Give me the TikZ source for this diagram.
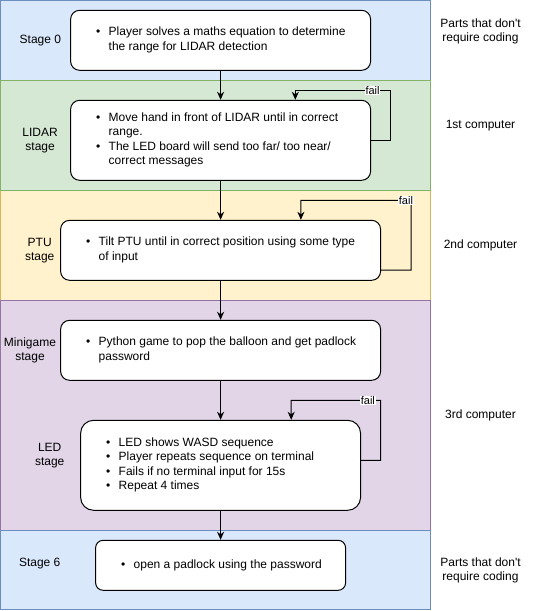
\documentclass[tikz,border=0pt]{standalone}
\usepackage{fontspec}
\setmainfont{Liberation Sans}
\usetikzlibrary{arrows.meta,calc}
\definecolor{bluefill}{HTML}{DAE8FC}\definecolor{bluedraw}{HTML}{6C8EBF}
\definecolor{greenfill}{HTML}{D5E8D4}\definecolor{greendraw}{HTML}{82B366}
\definecolor{yellowfill}{HTML}{FFF2CC}\definecolor{yellowdraw}{HTML}{D6B656}
\definecolor{purplefill}{HTML}{E1D5E7}\definecolor{purpledraw}{HTML}{9673A6}
\newcommand{\blist}[2]{\makebox[#1][l]{\hspace{25.5pt}\begin{tabular}{@{}l@{\hspace{8.4pt}}l@{}}#2\end{tabular}}}
\begin{document}
\begin{tikzpicture}[x=1pt,y=-1pt,
  band/.style={line width=1pt},
  stagebox/.style={draw, line width=1pt, fill=white, inner sep=0pt,
    font=\fontsize{12}{14.4}\selectfont},
  lbl/.style={align=center, inner sep=0pt, font=\fontsize{12}{14.4}\selectfont},
  arr/.style={line width=1pt, -{Stealth[length=8pt,width=7pt,inset=2.5pt]}},
  fl/.style={fill=white, inner sep=0.6pt, font=\fontsize{11}{13}\selectfont}]
\useasboundingbox (0,0) rectangle (541,611);
% bands
\path[band, fill=bluefill, draw=bluedraw] (0.8,0.5) rectangle (430.5,80.3);
\path[band, fill=yellowfill, draw=yellowdraw] (0.8,190.3) rectangle (430.5,300.3);
\path[band, fill=greenfill, draw=greendraw] (0.8,80.3) rectangle (430.5,190.3);
\path[band, fill=purplefill, draw=purpledraw] (0.8,300.3) rectangle (430.5,530.3);
\path[band, fill=bluefill, draw=bluedraw] (0.8,530.3) rectangle (430.5,609.8);
% boxes
\node[stagebox, rounded corners=9pt, minimum width=300pt, minimum height=60pt] (s0) at (220.6,40.3)
  {\blist{300pt}{\textbullet & Player solves a maths equation to determine\\ & the range for LIDAR detection}};
\node[stagebox, rounded corners=9pt, minimum width=300pt, minimum height=80pt] (lidar) at (220.6,140.3)
  {\blist{300pt}{\textbullet & Move hand in front of LIDAR until in correct\\ & range.\\ \textbullet & The LED board will send too far/ too near/\\ & correct messages}};
\node[stagebox, rounded corners=9pt, minimum width=320pt, minimum height=60pt] (ptu) at (220.6,250.3)
  {\blist{320pt}{\textbullet & Tilt PTU until in correct position using some type\\ & of input}};
\node[stagebox, rounded corners=9pt, minimum width=320pt, minimum height=60pt] (mini) at (220.6,350.3)
  {\blist{320pt}{\textbullet & Python game to pop the balloon and get padlock\\ & password}};
\node[stagebox, rounded corners=13pt, minimum width=280pt, minimum height=90pt] (led) at (220.6,465.3)
  {\blist{280pt}{\textbullet & LED shows WASD sequence\\ \textbullet & Player repeats sequence on terminal\\ \textbullet & Fails if no terminal input for 15s\\ \textbullet & Repeat 4 times}};
\node[stagebox, rounded corners=7.5pt, minimum width=250pt, minimum height=50pt] (s6) at (220.6,565.3)
  {\blist{250pt}{\textbullet & open a padlock using the password}};
% left labels
\node[lbl] (l0) at (40.4,40.3) {Stage 0};
\node[lbl] (l1) at (40.1,140.5) {LIDAR\\stage};
\node[lbl] (l2) at (39.7,250.5) {PTU\\stage};
\node[lbl] (l3) at (30,350.5) {Minigame\\stage};
\node[lbl] (l4) at (49.7,455.5) {LED\\stage};
\node[lbl] (l5) at (39.7,564) {Stage 6};
% right labels
\node[lbl] (r0) at (480.5,31.5) {Parts that don\textquotesingle t\\require coding};
\node[lbl] (r1) at (480.5,125.5) {1st computer};
\node[lbl] (r2) at (480.5,245.5) {2nd computer};
\node[lbl] (r3) at (480.5,415.5) {3rd computer};
\node[lbl] (r4) at (480.5,570.5) {Parts that don\textquotesingle t\\require coding};
% flow arrows
\draw[arr] (s0.south) -- (lidar.north);
\draw[arr] (lidar.south) -- (ptu.north);
\draw[arr] (ptu.south) -- (mini.north);
\draw[arr] (mini.south) -- (led.north);
\draw[arr] (led.south) -- (s6.north);
% fail loops
\draw[arr] (lidar.east) -- (390.7,140.3) -- (390.7,90.3)
  -- node[fl, pos=0.19] (f1) {fail} (295.3,90.3) -- ([xshift=74.7pt]lidar.north);
\draw[arr] ($(ptu.east)+(0,19.7)$) -- (411,270) -- (411,200.3)
  -- node[fl, pos=0.046] (f2) {fail} (300.9,200.3) -- ([xshift=80.3pt]ptu.north);
\draw[arr] ($(led.east)+(0,-5)$) -- (380.7,460.3) -- (380.7,400.3)
  -- node[fl, pos=0.143] (f3) {fail} (291.2,400.3) -- ([xshift=70.6pt]led.north);
\end{tikzpicture}
\end{document}
